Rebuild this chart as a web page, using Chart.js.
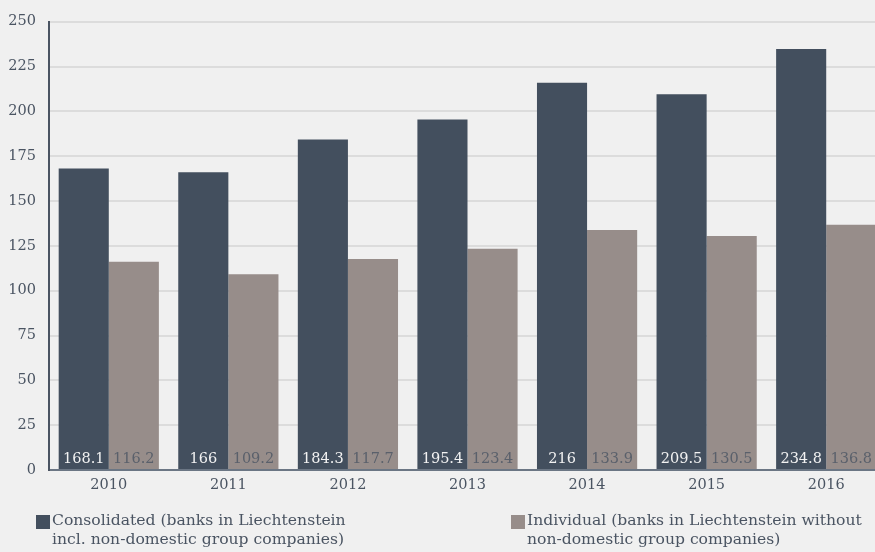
<!DOCTYPE html>
<html>
<head>
<meta charset="utf-8">
<script src="https://cdn.jsdelivr.net/npm/chart.js@4/dist/chart.umd.min.js"></script>
<style>
  html,body{margin:0;padding:0;background:#f0f0f0;overflow:hidden;width:875px;height:552px;}
  #wrap{position:absolute;left:0;top:0;width:886px;height:552px;}
  .leg{position:absolute;font-family:"DejaVu Serif",serif;font-size:15.6px;line-height:19px;color:#4a5462;white-space:nowrap;}
  .sq{position:absolute;width:14px;height:14px;}
  .txt{position:absolute;left:16px;top:0;}
</style>
</head>
<body>
<div id="wrap"><canvas id="c" width="886" height="552"></canvas></div>
<div class="leg" style="left:36px;top:511px;"><div class="sq" style="background:#434f5e;top:4px;left:0"></div><div class="txt">Consolidated (banks in Liechtenstein<br>incl. non-domestic group companies)</div></div>
<div class="leg" style="left:511px;top:511px;"><div class="sq" style="background:#978d8a;top:4px;left:0"></div><div class="txt">Individual (banks in Liechtenstein without<br>non-domestic group companies)</div></div>
<script>
const years = ["2010","2011","2012","2013","2014","2015","2016"];
const consolidated = [168.1,166,184.3,195.4,216,209.5,234.8];
const individual = [116.2,109.2,117.7,123.4,133.9,130.5,136.8];
const yTicks = [0,25,50,75,100,125,150,175,200,225,250];

const FONT = '"DejaVu Serif",serif';
const TXT = '#4a5462';

const valueLabels = {
  id:'valueLabels',
  afterDatasetsDraw(chart){
    const ctx = chart.ctx;
    ctx.save();
    ctx.font = '14.5px ' + FONT;
    ctx.textAlign = 'center';
    ctx.textBaseline = 'alphabetic';
    chart.data.datasets.forEach((ds,i)=>{
      const meta = chart.getDatasetMeta(i);
      ctx.fillStyle = i===0 ? '#f2f2f2' : '#5a606b';
      meta.data.forEach((bar,j)=>{
        ctx.fillText(String(ds.data[j]), bar.x, bar.base - 6);
      });
    });
    ctx.restore();
  }
};

new Chart(document.getElementById('c'),{
  type:'bar',
  data:{
    labels: years,
    datasets:[
      {label:'Consolidated', data:consolidated, backgroundColor:'#434f5e', barPercentage:1, categoryPercentage:0.838},
      {label:'Individual', data:individual, backgroundColor:'#978d8a', barPercentage:1, categoryPercentage:0.838}
    ]
  },
  options:{
    responsive:false,
    animation:false,
    layout:{padding:{top:18,right:0,left:0,bottom:0}},
    plugins:{legend:{display:false},tooltip:{enabled:false}},
    scales:{
      x:{
        grid:{display:false, drawTicks:false},
        border:{display:true,color:'#6b7684',width:2},
        ticks:{color:TXT,font:{family:FONT,size:14.5},padding:7},
        afterFit(s){ s.height = 82; }
      },
      y:{
        min:0,max:250,
        afterBuildTicks(s){ s.ticks = yTicks.map(v=>({value:v})); },
        grid:{color:'#dcdcdc',lineWidth:2,drawTicks:false},
        border:{display:true,color:'#4a5462',width:2},
        ticks:{color:TXT,font:{family:FONT,size:14.5},padding:13},
        afterFit(s){ s.width = 49; }
      }
    }
  },
  plugins:[valueLabels]
});
</script>
</body>
</html>
